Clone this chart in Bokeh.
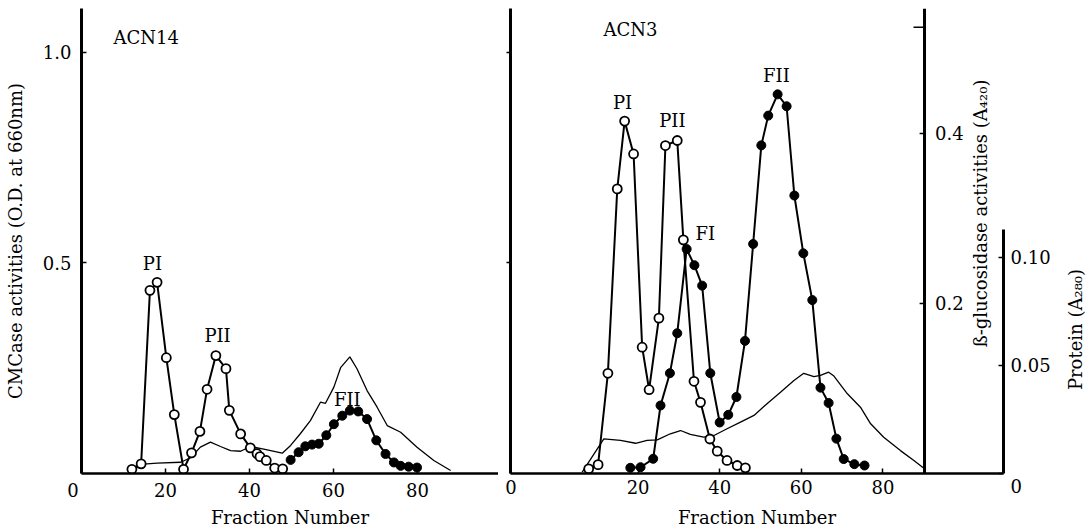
import math
from bokeh.plotting import figure
from bokeh.layouts import row
from bokeh.models import (Range1d, LinearAxis, FixedTicker, Span,
                          PrintfTickFormatter, CustomJSTickFormatter)
from bokeh.embed import file_html
from bokeh.resources import INLINE
from bokeh.core.properties import value

FONT = "DejaVu Serif"

# ---------------- ACN14 ----------------
acn14_cmc_fraction = [12.0, 14.2, 16.3, 18.0, 20.2, 22.1, 24.3, 26.2, 28.2, 29.9,
                      32.0, 34.4, 35.2, 37.9, 40.2, 41.8, 42.5, 44.0, 46.0, 47.9]
acn14_cmc = [0.010, 0.023, 0.435, 0.454, 0.275, 0.140, 0.010, 0.049, 0.100, 0.200,
             0.280, 0.249, 0.150, 0.094, 0.061, 0.047, 0.040, 0.031, 0.013, 0.011]

acn14_bgl_fraction = [49.8, 51.7, 53.3, 54.9, 56.5, 58.3, 60.1, 62.1, 63.9, 65.9,
                      68.0, 70.2, 72.4, 74.4, 76.0, 77.9, 79.9]
acn14_bgl = [0.016, 0.025, 0.032, 0.034, 0.035, 0.045, 0.058, 0.068, 0.074, 0.073,
             0.064, 0.039, 0.023, 0.013, 0.009, 0.008, 0.007]

acn14_prot_fraction = [12.1, 14.0, 18.0, 23.6, 26.0, 28.3, 30.7, 33.1, 35.5, 37.9,
                       40.2, 43.4, 47.8, 49.8, 52.1, 54.5, 56.9, 58.1, 60.1, 61.7,
                       63.9, 65.6, 68.0, 70.4, 72.8, 76.0, 79.9, 83.9, 87.9]
acn14_prot = [0.0006, 0.0042, 0.0048, 0.0052, 0.0073, 0.0122, 0.0145, 0.0125, 0.0106, 0.0103,
              0.0125, 0.0113, 0.0094, 0.0130, 0.0184, 0.0245, 0.0330, 0.0325, 0.0400, 0.0490,
              0.0540, 0.0485, 0.0384, 0.0307, 0.0222, 0.0191, 0.0122, 0.0060, 0.0014]

# ---------------- ACN3 ----------------
acn3_cmc_fraction = [7.9, 10.2, 12.6, 14.9, 16.7, 18.9, 21.0, 22.7, 25.1, 26.7,
                     29.6, 31.1, 33.7, 35.3, 37.6, 39.4, 41.8, 44.3, 46.3]
acn3_cmc = [0.011, 0.021, 0.238, 0.676, 0.837, 0.759, 0.300, 0.199, 0.369, 0.779,
            0.791, 0.555, 0.219, 0.169, 0.082, 0.053, 0.031, 0.019, 0.0135]

acn3_bgl_fraction = [18.1, 20.6, 23.7, 25.5, 27.8, 29.6, 31.9, 33.8, 35.7, 37.7,
                     40.0, 42.1, 44.1, 46.2, 48.2, 50.2, 51.9, 54.2, 56.4, 58.3,
                     60.5, 62.7, 64.7, 66.7, 68.6, 70.4, 73.0, 75.5]
acn3_bgl = [0.0067, 0.0074, 0.0173, 0.080, 0.118, 0.165, 0.264, 0.245, 0.221, 0.118,
            0.060, 0.069, 0.090, 0.156, 0.270, 0.386, 0.421, 0.446, 0.432, 0.327,
            0.259, 0.204, 0.101, 0.083, 0.041, 0.017, 0.011, 0.0094]

acn3_prot_fraction = [6.3, 11.6, 15.7, 19.4, 22.2, 24.7, 27.9, 30.4, 32.8, 36.1,
                      38.6, 41.8, 45.1, 48.4, 51.6, 54.9, 58.2, 60.6, 63.1, 64.7,
                      66.7, 68.0, 71.3, 74.5, 77.0, 80.2, 84.3, 87.6, 90.2]
acn3_prot = [0.0006, 0.0160, 0.0153, 0.0140, 0.0153, 0.0156, 0.0184, 0.0199, 0.0181, 0.0168,
             0.0176, 0.0207, 0.0238, 0.0269, 0.0323, 0.0376, 0.0431, 0.0464, 0.0449, 0.0454,
             0.0469, 0.0451, 0.0369, 0.0307, 0.0230, 0.0168, 0.0106, 0.0060, 0.0022]

# axis ticks
fraction_ticks = [20, 40, 60, 80]
cmc_ticks = [0.5, 1.0]
bgl_ticks = [0.2, 0.4]
bgl_labels = ["0.2", "0.4"]
prot_ticks = [0.0, 0.05, 0.10]

# peak annotations: (text, fraction, activity on the CMCase scale)
acn14_peaks = [("PI", 16.9, 0.499), ("PII", 32.4, 0.328), ("FII", 63.3, 0.176)]
acn3_peaks = [("PI", 16.2, 0.881), ("PII", 28.4, 0.838), ("FI", 36.5, 0.570), ("FII", 53.9, 0.945)]

CMC_RANGE = (0, 1.1045)
BGL_RANGE = (0, 0.547)
PROT_RANGE = (0, 0.2153)
PROT_AXIS_TOP = 0.113
FRAME_H = 465


def style_common(p, ticks, formatter, label_standoff):
    p.outline_line_color = None
    p.grid.visible = False
    p.background_fill_color = "white"
    p.border_fill_color = "white"
    p.extra_y_ranges = {"bgl": Range1d(*BGL_RANGE), "prot": Range1d(*PROT_RANGE)}
    ax = p.xaxis[0]
    ax.ticker = FixedTicker(ticks=ticks)
    ax.formatter = formatter
    ax.major_tick_in = 5
    ax.major_tick_out = 0
    ax.minor_tick_line_color = None
    ax.axis_line_width = 2.5
    ax.major_tick_line_width = 1.5
    ax.major_label_text_font = FONT
    ax.major_label_text_font_size = "18px"
    ax.major_label_text_color = "black"
    ax.major_label_standoff = 6
    ax.axis_label = "Fraction Number"
    ax.axis_label_text_font = FONT
    ax.axis_label_text_font_size = "18px"
    ax.axis_label_text_font_style = "normal"
    ax.axis_label_text_color = "black"
    ax.axis_label_standoff = label_standoff


def draw_series(p, cf, cv, bf, bv, pf, pv):
    p.line(pf, pv, y_range_name="prot", line_color="black", line_width=1.3)
    p.line(bf, bv, y_range_name="bgl", line_color="black", line_width=2)
    p.line(cf, cv, line_color="black", line_width=2)
    p.scatter(bf, bv, y_range_name="bgl", marker="circle", size=9,
              fill_color="black", line_color="black", line_width=1)
    p.scatter(cf, cv, marker="circle", size=9, fill_color="white",
              line_color="black", line_width=1.8)


def peak_labels(p, peaks):
    p.text(x=[q[1] for q in peaks], y=[q[2] for q in peaks], text=[q[0] for q in peaks],
           text_font=value(FONT), text_font_size="18px", text_color="black",
           text_align="center", text_baseline="middle")


# ---------------- left panel: ACN14 ----------------
left = figure(frame_width=417, frame_height=FRAME_H, x_range=Range1d(0, 99.3),
              y_range=Range1d(*CMC_RANGE), output_backend="svg", toolbar_location=None,
              min_border_left=81, min_border_right=0, min_border_top=8, min_border_bottom=57)
# the origin "0" sits a little left of the corner
left_fmt = CustomJSTickFormatter(
    code="return tick == 0 ? '0' + '\u00a0\u00a0\u00a0' : tick.toFixed(0)")
style_common(left, [0] + fraction_ticks, left_fmt, 3)
ya = left.yaxis[0]
ya.ticker = FixedTicker(ticks=cmc_ticks)
ya.formatter = PrintfTickFormatter(format="%.1f")
ya.major_tick_in = 5
ya.major_tick_out = 0
ya.minor_tick_line_color = None
ya.axis_line_width = 3
ya.major_tick_line_width = 1.5
ya.major_label_text_font = FONT
ya.major_label_text_font_size = "18px"
ya.major_label_text_color = "black"
ya.major_label_standoff = 10
ya.axis_label = "CMCase activities (O.D. at 660nm)"
ya.axis_label_text_font = FONT
ya.axis_label_text_font_size = "18px"
ya.axis_label_text_font_style = "normal"
ya.axis_label_text_color = "black"
ya.axis_label_standoff = 14

draw_series(left, acn14_cmc_fraction, acn14_cmc, acn14_bgl_fraction, acn14_bgl,
            acn14_prot_fraction, acn14_prot)
peak_labels(left, acn14_peaks)
left.text(x=[7.6], y=[1.036], text=["ACN14"], text_font=value(FONT), text_font_size="18px",
          text_align="left", text_baseline="middle", text_color="black")

# ---------------- right panel: ACN3 ----------------
RIGHT_X = (-11.27, 109.56)
right = figure(frame_width=493, frame_height=FRAME_H, x_range=Range1d(*RIGHT_X),
               y_range=Range1d(*CMC_RANGE), output_backend="svg", toolbar_location=None,
               min_border_left=12, min_border_right=57, min_border_top=8, min_border_bottom=57)
# the shared origin "0" is printed under the left edge of the panel
right_fmt = CustomJSTickFormatter(code="return tick < 0 ? '0' : tick.toFixed(0)")
style_common(right, [RIGHT_X[0] + 0.1] + fraction_ticks, right_fmt, 10)
yb = right.yaxis[0]
yb.ticker = FixedTicker(ticks=cmc_ticks)
yb.formatter = CustomJSTickFormatter(code="return ''")
yb.major_tick_in = 0
yb.major_tick_out = 4
yb.minor_tick_line_color = None
yb.axis_line_width = 3
yb.major_tick_line_width = 1.5
yb.major_label_standoff = 0

# protein axis (outer right), only drawn over its own span; its "0" sits below the corner
prot_axis = LinearAxis(y_range_name="prot", ticker=FixedTicker(ticks=prot_ticks),
                       formatter=CustomJSTickFormatter(
                           code="return tick == 0 ? '\\n0' : tick.toFixed(2)"),
                       bounds=(0, PROT_AXIS_TOP))
prot_axis.major_tick_in = 5
prot_axis.major_tick_out = 0
prot_axis.minor_tick_line_color = None
prot_axis.axis_line_width = 3
prot_axis.major_tick_line_width = 1.5
prot_axis.major_label_text_font = FONT
prot_axis.major_label_text_font_size = "18px"
prot_axis.major_label_text_color = "black"
prot_axis.major_label_standoff = 7
right.add_layout(prot_axis, "right")

# ß-glucosidase axis standing inside the panel at the end of the fractions
GLUC_AT = 90.2
right.add_layout(Span(location=GLUC_AT, dimension="height", line_color="black", line_width=3))
right.segment(x0=[GLUC_AT - 1.2] * len(bgl_ticks), y0=bgl_ticks,
              x1=[GLUC_AT] * len(bgl_ticks), y1=bgl_ticks,
              y_range_name="bgl", line_color="black", line_width=1.5)
right.segment(x0=[GLUC_AT - 2.7], y0=[0.525], x1=[GLUC_AT], y1=[0.525],
              y_range_name="bgl", line_color="black", line_width=1.5)
right.text(x=[GLUC_AT + 2.6] * len(bgl_ticks), y=bgl_ticks, text=bgl_labels,
           y_range_name="bgl", text_font=value(FONT), text_font_size="18px",
           text_align="left", text_baseline="middle", text_color="black")
right.text(x=[103.9], y=[0.306], text=["ß-glucosidase activities (A₄₂₀)"], angle=math.pi / 2,
           y_range_name="bgl", text_font=value(FONT), text_font_size="18px",
           text_align="center", text_baseline="middle", text_color="black")

draw_series(right, acn3_cmc_fraction, acn3_cmc, acn3_bgl_fraction, acn3_bgl,
            acn3_prot_fraction, acn3_prot)
peak_labels(right, acn3_peaks)
right.text(x=[11.5], y=[1.055], text=["ACN3"], text_font=value(FONT), text_font_size="18px",
           text_align="left", text_baseline="middle", text_color="black")

# ---------------- strip holding the protein axis title ----------------
title_strip = figure(frame_width=32, frame_height=FRAME_H, x_range=Range1d(0, 1),
                     y_range=Range1d(*PROT_RANGE), output_backend="svg", toolbar_location=None,
                     x_axis_location=None, y_axis_location=None,
                     min_border_left=0, min_border_right=0, min_border_top=8, min_border_bottom=57)
title_strip.outline_line_color = None
title_strip.grid.visible = False
title_strip.border_fill_color = "white"
# centred a little below the middle of the short protein axis
title_strip.text(x=[0.47], y=[PROT_AXIS_TOP * 0.59], text=["Protein (A₂₈₀)"], angle=math.pi / 2,
                 text_font=value(FONT), text_font_size="18px", text_color="black",
                 text_align="center", text_baseline="middle")

layout = row(left, right, title_strip, spacing=0)
open("out.html", "w").write(file_html(layout, INLINE))
